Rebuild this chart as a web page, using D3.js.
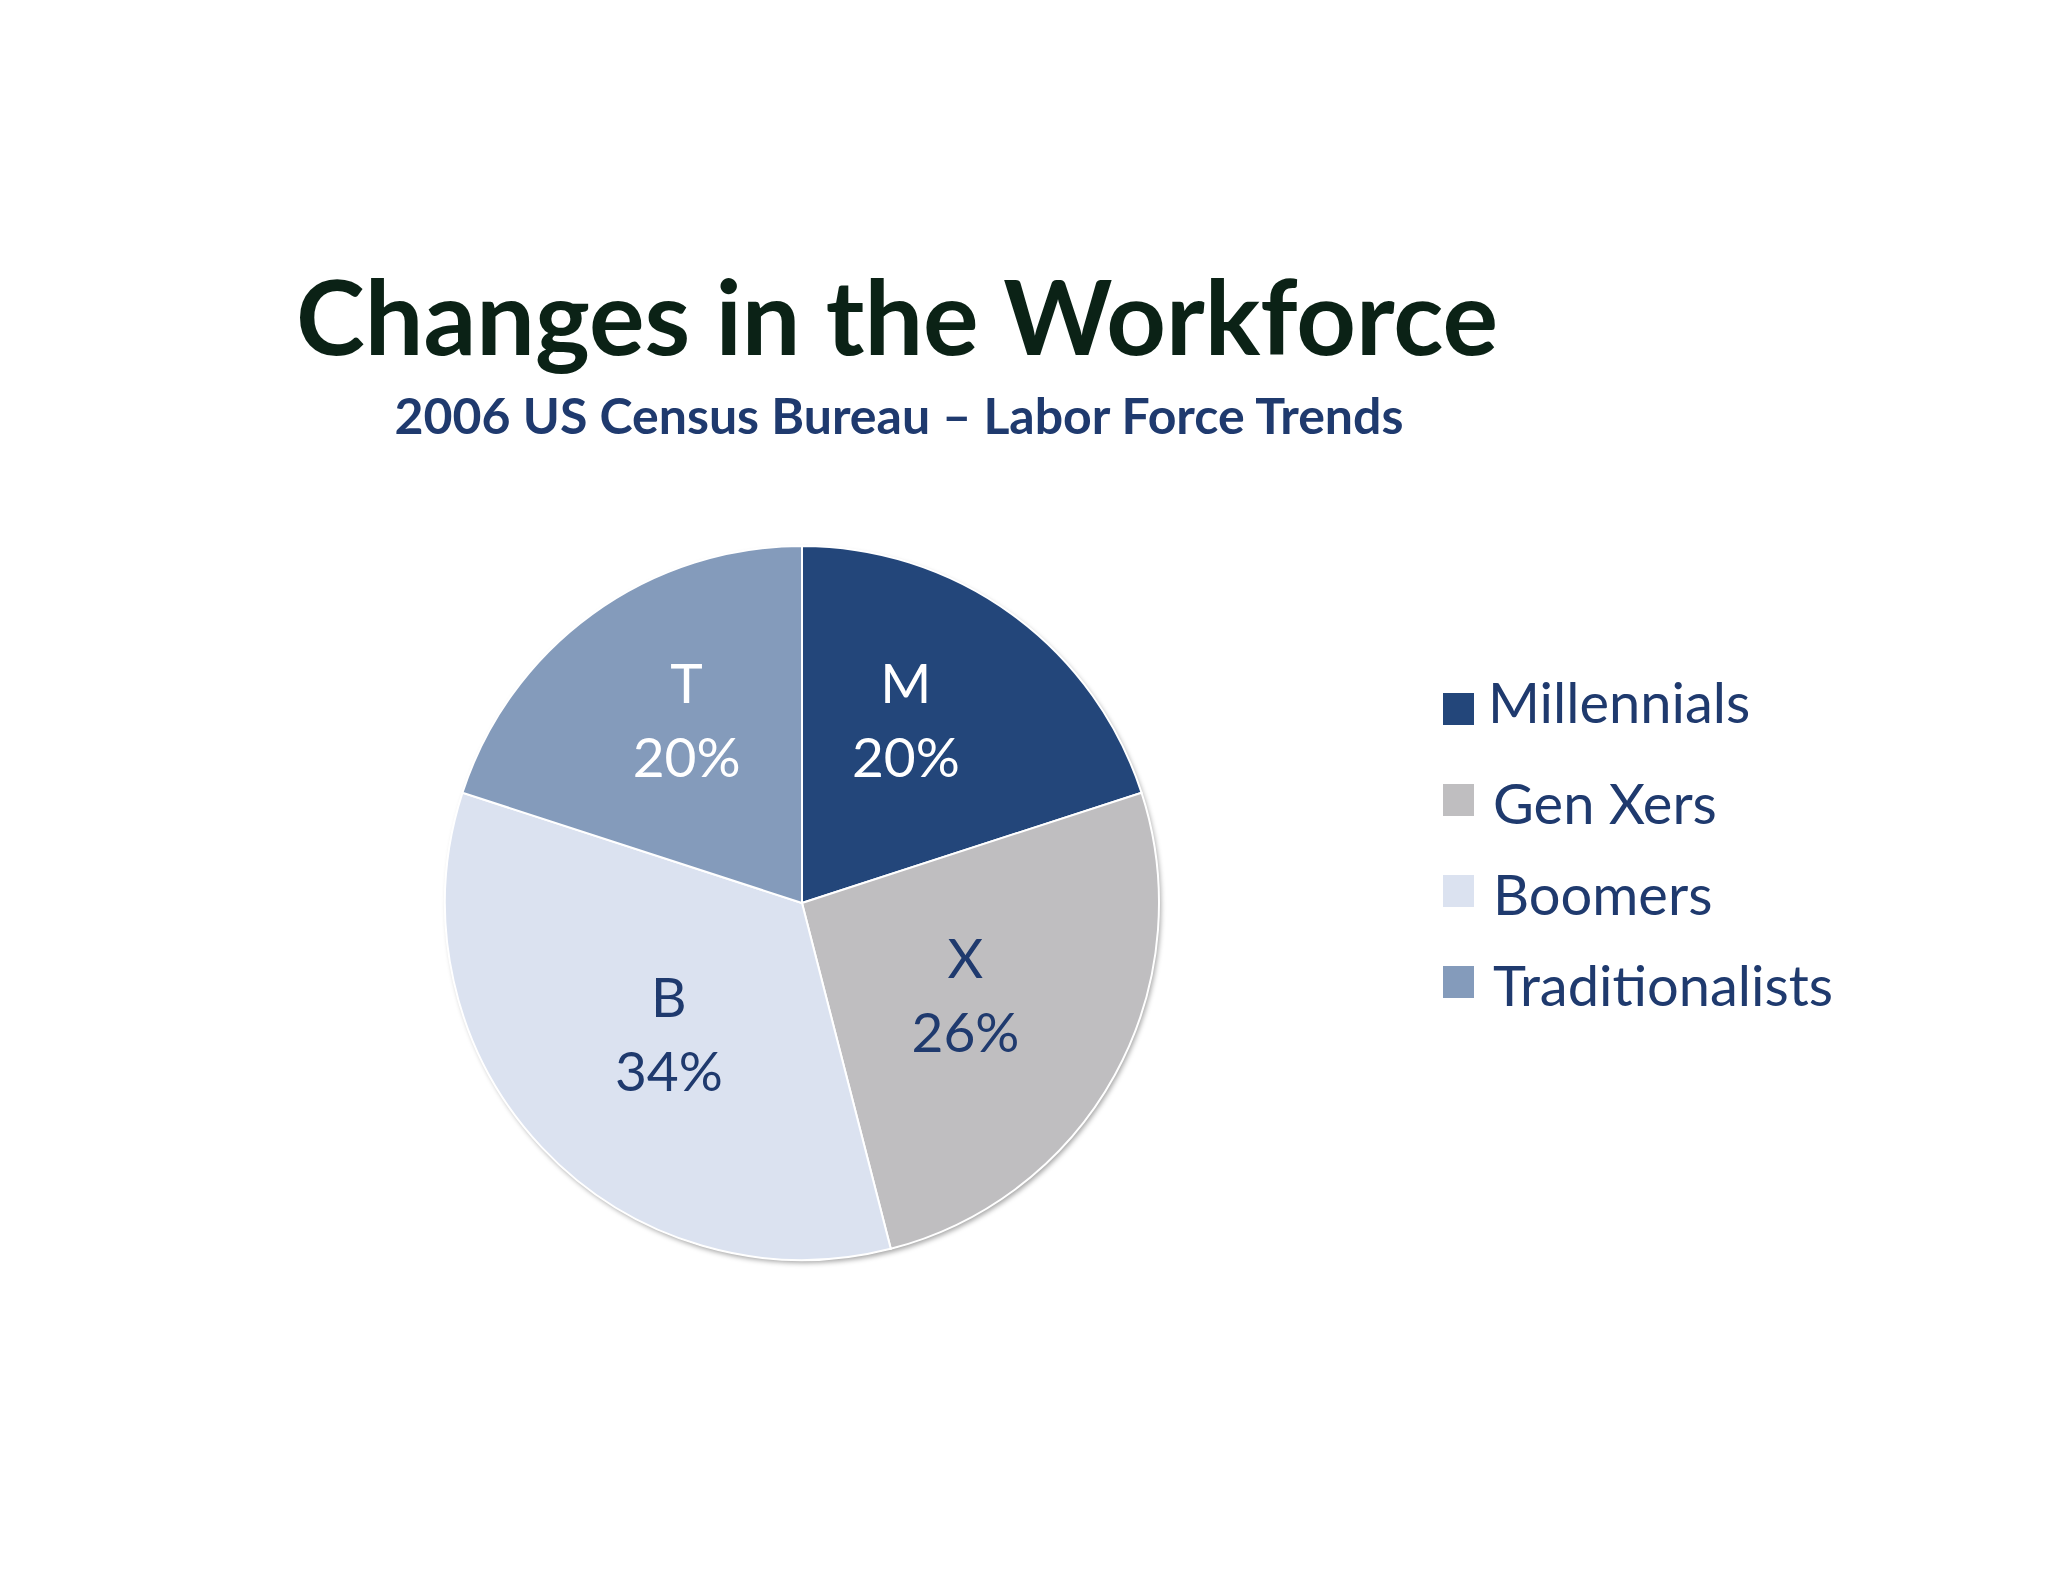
<!DOCTYPE html>
<html>
<head>
<meta charset="utf-8">
<script src="https://cdn.jsdelivr.net/npm/d3@7"></script>
<style>
  body { margin: 0; background: #ffffff; }
  svg { display: block; }
</style>
</head>
<body>
<div id="chart"></div>
<script>
// data
var categories = ["Millennials", "Gen Xers", "Boomers", "Traditionalists"];
var shortLabels = ["M", "X", "B", "T"];
var shares = [20, 26, 34, 20];
var colors = ["#23467a", "#bfbec0", "#dbe2f0", "#849bbb"];
var labelColors = ["#ffffff", "#1f3a6e", "#1f3a6e", "#ffffff"];

var width = 2048, height = 1582;
var cx = 802, cy = 903, radius = 357;

var data = categories.map(function (c, i) {
    return { name: c, short: shortLabels[i], value: shares[i], color: colors[i], text: labelColors[i] };
});

var svg = d3.select("#chart")
    .append("svg")
    .attr("width", width)
    .attr("height", height);

svg.append("rect").attr("width", width).attr("height", height).attr("fill", "#ffffff");

// soft shadow under the pie
var defs = svg.append("defs");
var filter = defs.append("filter").attr("id", "shadow")
    .attr("x", "-10%").attr("y", "-10%").attr("width", "120%").attr("height", "120%");
filter.append("feDropShadow")
    .attr("dx", 2).attr("dy", 3).attr("stdDeviation", 2.5)
    .attr("flood-color", "#000").attr("flood-opacity", 0.35);

// Title
svg.append("text")
    .attr("x", 897).attr("y", 355)
    .attr("text-anchor", "middle")
    .style("font-family", "Lato, 'Open Sans', sans-serif")
    .style("font-weight", 700)
    .style("font-size", "104px")
    .attr("fill", "#0b2216")
    .text("Changes in the Workforce");

svg.append("text")
    .attr("x", 899).attr("y", 434)
    .attr("text-anchor", "middle")
    .style("font-family", "Lato, 'Open Sans', sans-serif")
    .style("font-weight", 700)
    .style("font-size", "50px")
    .attr("fill", "#1f3a6e")
    .text("2006 US Census Bureau \u2013 Labor Force Trends");

// Pie
var pie = d3.pie().sort(null).value(function (d) { return d.value; });
var arc = d3.arc().innerRadius(0).outerRadius(radius);
var labelArc = d3.arc().innerRadius(radius * 0.55).outerRadius(radius * 0.55);

var g = svg.append("g").attr("transform", "translate(" + cx + "," + cy + ")");

g.append("circle").attr("r", radius).attr("fill", "#ffffff").attr("filter", "url(#shadow)");

g.selectAll("path.slice")
    .data(pie(data))
    .enter()
    .append("path")
    .attr("class", "slice")
    .attr("d", arc)
    .attr("fill", function (d) { return d.data.color; })
    .attr("stroke", "#ffffff")
    .attr("stroke-width", 2);

var labels = g.selectAll("text.lbl")
    .data(pie(data))
    .enter()
    .append("text")
    .attr("class", "lbl")
    .attr("transform", function (d) {
        var c = labelArc.centroid(d);
        // top slices sit a little higher in the original
        var top = c[1] < 0;
        var lift = top ? -33 : -12;
        var squeeze = c[0] > 0 ? (top ? 0.9 : 0.95) : (top ? 1.0 : 0.93);
        return "translate(" + [c[0] * squeeze, c[1] + lift] + ")";
    })
    .attr("text-anchor", "middle")
    .style("font-family", "Lato, 'Open Sans', sans-serif")
    .style("font-size", "55px")
    .attr("fill", function (d) { return d.data.text; });

labels.append("tspan").attr("x", 0).attr("y", -8).text(function (d) { return d.data.short; });
labels.append("tspan").attr("x", 0).attr("y", 66).text(function (d) { return d.data.value + "%"; });

// Legend
var legend = svg.append("g").attr("transform", "translate(1443,693)");
var items = legend.selectAll("g.item")
    .data(data)
    .enter()
    .append("g")
    .attr("class", "item")
    .attr("transform", function (d, i) { return "translate(0," + (i * 91) + ")"; });

items.append("rect")
    .attr("width", 31).attr("height", 32)
    .attr("fill", function (d) { return d.color; });

items.append("text")
    .attr("x", function (d, i) { return i === 0 ? 45 : 50; })
    .attr("y", function (d, i) { return i === 0 ? 30 : 40; })
    .style("font-family", "Lato, 'Open Sans', sans-serif")
    .style("font-size", "56px")
    .attr("fill", "#1f3a6e")
    .text(function (d) { return d.name; });
</script>
</body>
</html>
